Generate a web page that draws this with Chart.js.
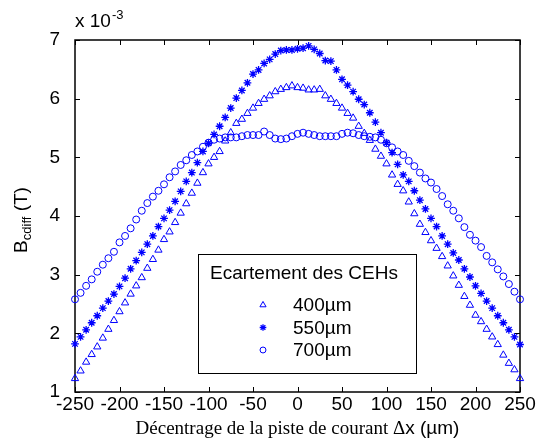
<!DOCTYPE html>
<html>
<head>
<meta charset="utf-8">
<script src="https://cdn.jsdelivr.net/npm/chart.js@4.4.1/dist/chart.umd.min.js"></script>
<style>
  body { margin: 0; background: #fff; }
  canvas { display: block; }
</style>
</head>
<body>
<canvas id="bChart" width="548" height="446"></canvas>
<script>
// Décentrage de la piste de courant (µm)
const decentrage = [
  -250, -243.75, -237.5, -231.25, -225, -218.75, -212.5, -206.25, -200, -193.75,
  -187.5, -181.25, -175, -168.75, -162.5, -156.25, -150, -143.75, -137.5, -131.25,
  -125, -118.75, -112.5, -106.25, -100, -93.75, -87.5, -81.25, -75, -68.75,
  -62.5, -56.25, -50, -43.75, -37.5, -31.25, -25, -18.75, -12.5, -6.25,
  0, 6.25, 12.5, 18.75, 25, 31.25, 37.5, 43.75, 50, 56.25,
  62.5, 68.75, 75, 81.25, 87.5, 93.75, 100, 106.25, 112.5, 118.75,
  125, 131.25, 137.5, 143.75, 150, 156.25, 162.5, 168.75, 175, 181.25,
  187.5, 193.75, 200, 206.25, 212.5, 218.75, 225, 231.25, 237.5, 243.75,
  250
];

// Bcdiff (x 10^-3 T) pour chaque écartement
const b400 = [
  1.23, 1.36, 1.51, 1.64, 1.77, 1.92, 2.07, 2.22, 2.37, 2.52,
  2.67, 2.81, 2.95, 3.11, 3.26, 3.42, 3.60, 3.73, 3.89, 4.05,
  4.21, 4.39, 4.56, 4.74, 4.89, 5.00, 5.10, 5.28, 5.42, 5.58,
  5.65, 5.75, 5.84, 5.92, 5.99, 6.05, 6.12, 6.16, 6.19, 6.22,
  6.19, 6.18, 6.15, 6.15, 6.16, 6.05, 5.99, 5.92, 5.84, 5.75,
  5.67, 5.53, 5.41, 5.29, 5.14, 5.02, 4.89, 4.70, 4.54, 4.43,
  4.24, 4.04, 3.86, 3.72, 3.58, 3.45, 3.31, 3.15, 2.98, 2.82,
  2.63, 2.48, 2.31, 2.20, 2.07, 1.94, 1.81, 1.63, 1.49, 1.38,
  1.23
];
const b550 = [
  1.82, 1.94, 2.06, 2.18, 2.30, 2.43, 2.55, 2.67, 2.80, 2.94,
  3.10, 3.24, 3.38, 3.52, 3.66, 3.82, 3.96, 4.10, 4.25, 4.42,
  4.59, 4.74, 4.91, 5.10, 5.24, 5.39, 5.53, 5.68, 5.84, 6.01,
  6.14, 6.27, 6.42, 6.49, 6.60, 6.67, 6.76, 6.82, 6.83, 6.83,
  6.85, 6.86, 6.90, 6.84, 6.77, 6.65, 6.64, 6.49, 6.33, 6.23,
  6.12, 5.99, 5.90, 5.76, 5.60, 5.42, 5.25, 5.08, 4.88, 4.70,
  4.59, 4.43, 4.27, 4.12, 3.96, 3.82, 3.66, 3.52, 3.37, 3.25,
  3.10, 2.96, 2.81, 2.68, 2.55, 2.43, 2.30, 2.18, 2.06, 1.94,
  1.81
];
const b700 = [
  2.58, 2.69, 2.81, 2.92, 3.05, 3.17, 3.28, 3.39, 3.55, 3.66,
  3.79, 3.94, 4.09, 4.22, 4.33, 4.43, 4.54, 4.66, 4.76, 4.87,
  4.95, 5.04, 5.10, 5.18, 5.25, 5.30, 5.32, 5.34, 5.34, 5.34,
  5.36, 5.38, 5.38, 5.38, 5.44, 5.38, 5.32, 5.31, 5.32, 5.36,
  5.40, 5.42, 5.40, 5.38, 5.36, 5.36, 5.36, 5.36, 5.40, 5.42,
  5.41, 5.38, 5.36, 5.35, 5.34, 5.30, 5.24, 5.17, 5.10, 5.04,
  4.94, 4.85, 4.74, 4.64, 4.57, 4.46, 4.34, 4.20, 4.09, 3.96,
  3.81, 3.68, 3.58, 3.47, 3.32, 3.21, 3.09, 2.97, 2.84, 2.71,
  2.58
];

const ecartements = ['400µm', '550µm', '700µm'];
const xTicks = [-250, -200, -150, -100, -50, 0, 50, 100, 150, 200, 250];
const yTicks = [1, 2, 3, 4, 5, 6, 7];

const SANS = "'Liberation Sans', Arial, sans-serif";
const SERIF = "'Liberation Serif', 'Times New Roman', serif";
const BLEU = '#0000ff';

function toPoints(ys) {
  return decentrage.map((x, i) => ({ x: x, y: ys[i] }));
}

// Cadre, graduations vers l'intérieur, titres, facteur x10^-3 et légende encadrée
const decorPlugin = {
  id: 'decor',
  beforeDatasetsDraw(chart) {
    const { ctx, chartArea: a, scales } = chart;
    ctx.save();
    ctx.strokeStyle = '#000';
    ctx.lineWidth = 1;
    ctx.beginPath();
    scales.x.ticks.forEach(t => {
      const px = Math.round(scales.x.getPixelForValue(t.value)) + 0.5;
      ctx.moveTo(px, a.bottom); ctx.lineTo(px, a.bottom - 5);
      ctx.moveTo(px, a.top); ctx.lineTo(px, a.top + 5);
    });
    scales.y.ticks.forEach(t => {
      const py = Math.round(scales.y.getPixelForValue(t.value)) + 0.5;
      ctx.moveTo(a.left, py); ctx.lineTo(a.left + 5, py);
      ctx.moveTo(a.right, py); ctx.lineTo(a.right - 5, py);
    });
    ctx.stroke();
    ctx.lineWidth = 1.5;
    ctx.strokeRect(a.left, a.top, a.right - a.left, a.bottom - a.top);
    ctx.restore();
  },
  afterDraw(chart) {
    const { ctx, chartArea: a } = chart;
    ctx.save();
    ctx.fillStyle = '#000';

    // x 10^-3
    ctx.textBaseline = 'alphabetic';
    ctx.textAlign = 'left';
    ctx.font = '19px ' + SANS;
    ctx.fillText('x 10', a.left, 27);
    const w10 = ctx.measureText('x 10').width;
    ctx.font = '13px ' + SANS;
    ctx.fillText('-3', a.left + w10 + 1, 19);

    // Titre de l'axe X (partie serif + "x (µm)" en sans)
    const partA = 'Décentrage de la piste de courant Δ';
    const partB = 'x (µm)';
    ctx.font = '19px ' + SERIF;
    const wA = ctx.measureText(partA).width;
    ctx.font = '19px ' + SANS;
    const wB2 = ctx.measureText(partB).width;
    let tx = (a.left + a.right) / 2 - (wA + wB2) / 2;
    ctx.font = '19px ' + SERIF;
    ctx.fillText(partA, tx, 434);
    ctx.font = '19px ' + SANS;
    ctx.fillText(partB, tx + wA, 434);

    // Titre de l'axe Y : B_cdiff (T)
    ctx.translate(22, 220);
    ctx.rotate(-Math.PI / 2);
    ctx.font = '19px ' + SANS;
    const wB = ctx.measureText('B').width;
    const wT = ctx.measureText(' (T)').width;
    ctx.font = '13px ' + SANS;
    const wSub = ctx.measureText('cdiff').width;
    let x0 = -(wB + wSub + wT) / 2;
    ctx.textBaseline = 'middle';
    ctx.font = '19px ' + SANS;
    ctx.fillText('B', x0, 0);
    ctx.font = '13px ' + SANS;
    ctx.fillText('cdiff', x0 + wB, 5);
    ctx.font = '19px ' + SANS;
    ctx.fillText(' (T)', x0 + wB + wSub, 0);
    ctx.setTransform(1, 0, 0, 1, 0, 0);

    // Légende
    const box = { left: 198, top: 254, right: 416, bottom: 373 };
    ctx.fillStyle = '#fff';
    ctx.fillRect(box.left, box.top, box.right - box.left, box.bottom - box.top);
    ctx.strokeStyle = '#000';
    ctx.lineWidth = 1;
    ctx.strokeRect(box.left + 0.5, box.top + 0.5, box.right - box.left, box.bottom - box.top);
    ctx.fillStyle = '#000';
    ctx.font = '19px ' + SANS;
    ctx.textBaseline = 'middle';
    ctx.fillText('Ecartement des CEHs', 210, 274);
    chart.data.datasets.forEach((ds, i) => {
      const yy = 305 + i * 22.5;
      ctx.strokeStyle = ds.borderColor;
      ctx.fillStyle = 'rgba(0,0,0,0)';
      ctx.lineWidth = ds.pointBorderWidth;
      Chart.helpers.drawPoint(ctx, {
        pointStyle: ds.pointStyle,
        radius: ds.pointRadius * 0.85,
        rotation: 0,
        borderWidth: ds.pointBorderWidth
      }, 263, yy);
      ctx.fillStyle = '#000';
      ctx.fillText(ds.label, 293, yy + 1);
    });
    ctx.restore();
  }
};

const ctx = document.getElementById('bChart').getContext('2d');

new Chart(ctx, {
  type: 'scatter',
  data: {
    datasets: [
      {
        label: ecartements[0],
        data: toPoints(b400),
        pointStyle: 'triangle',
        pointRadius: 4.2,
        pointBorderWidth: 1,
        borderColor: BLEU,
        backgroundColor: 'rgba(0,0,0,0)',
        clip: false
      },
      {
        label: ecartements[1],
        data: toPoints(b550),
        pointStyle: 'star',
        pointRadius: 3.9,
        pointBorderWidth: 1.3,
        borderColor: BLEU,
        backgroundColor: 'rgba(0,0,0,0)',
        clip: false
      },
      {
        label: ecartements[2],
        data: toPoints(b700),
        pointStyle: 'circle',
        pointRadius: 3.5,
        pointBorderWidth: 1,
        borderColor: BLEU,
        backgroundColor: 'rgba(0,0,0,0)',
        clip: false
      }
    ]
  },
  options: {
    responsive: false,
    animation: false,
    layout: { padding: { left: 0, top: 40, right: 28, bottom: 0 } },
    plugins: {
      legend: { display: false },
      tooltip: { enabled: false }
    },
    scales: {
      x: {
        type: 'linear',
        min: -250,
        max: 250,
        afterBuildTicks: s => { s.ticks = xTicks.map(v => ({ value: v })); },
        afterFit: s => { s.height = 54; },
        grid: { display: false, drawTicks: false },
        border: { display: false },
        ticks: {
          color: '#000',
          font: { family: SANS, size: 19 },
          padding: 1,
          maxRotation: 0,
          autoSkip: false
        }
      },
      y: {
        type: 'linear',
        min: 1,
        max: 7,
        afterBuildTicks: s => { s.ticks = yTicks.map(v => ({ value: v })); },
        afterFit: s => { s.width = 75; },
        grid: { display: false, drawTicks: false },
        border: { display: false },
        ticks: {
          color: '#000',
          font: { family: SANS, size: 19 },
          padding: 15
        }
      }
    }
  },
  plugins: [decorPlugin]
});
</script>
</body>
</html>
